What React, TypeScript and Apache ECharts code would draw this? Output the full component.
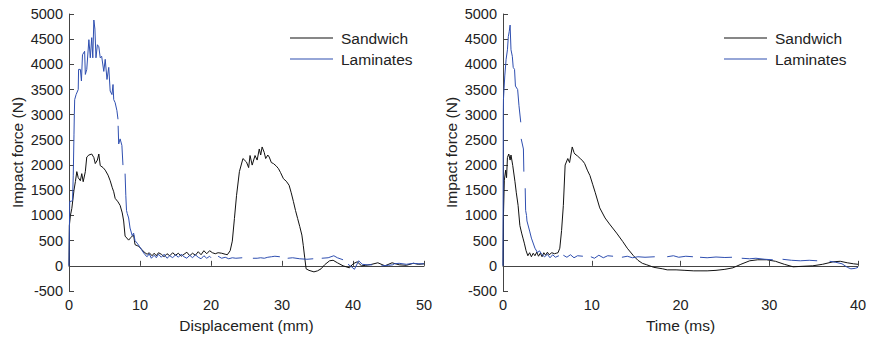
import React, { useEffect, useRef } from 'react';
import * as echarts from 'echarts';

// ---------- Left panel: force vs displacement ----------
const sandDispX = [0,0.05,0.2,0.4,0.7,0.9,1.1,1.3,1.6,1.8,2.0,2.3,2.5,2.8,3.2,3.5,3.7,4.0,4.2,4.4,4.8,5.1,5.5,5.8,6.1,6.3,6.5,6.9,7.2,7.5,7.7,7.9,8.4,8.7,8.9,9.1,9.3,9.6,9.8,10.2,10.7,11.0,11.3,11.7,12.0,12.3,12.6,13.0,13.4,13.8,14.2,14.6,15.0,15.4,15.8,16.2,16.6,17.0,17.4,17.8,18.2,18.6,19.0,19.4,19.8,20.2,20.6,21.0,21.5,22.0,22.3,22.7,23.0,23.3,23.6,24.0,24.5,25.0,25.3,25.5,25.8,26.2,26.5,26.8,27.0,27.2,27.5,27.7,28.0,28.2,28.5,28.8,29.2,29.5,29.8,30.2,30.6,31.0,31.3,31.6,31.9,32.2,32.5,32.8,33.0,33.2,33.4,33.8,34.5,35.0,35.5,36.0,36.7,37.2,37.8,38.6,39.5,40.0,40.6,41.2,41.8,42.5,43.5,44.5,45.5,46.5,47.5,48.5,49.2,50];
const sandDispF = [0,800,1000,1140,1500,1670,1870,1750,1690,1830,1670,1870,2160,2200,2220,2150,2030,2100,2220,1990,1950,1900,1800,1690,1550,1470,1340,1270,1200,1050,890,590,510,560,590,610,420,400,390,330,260,230,260,200,250,200,260,230,180,240,200,260,210,250,190,230,270,200,250,210,280,220,300,240,300,260,240,260,250,230,220,300,490,940,1400,1870,2130,2060,1950,2190,2000,2190,2100,2320,2200,2360,2250,2130,2200,2160,2050,2030,1980,1930,1850,1730,1680,1600,1450,1280,1100,940,780,610,400,160,-60,-90,-120,-100,-60,20,100,110,60,0,-40,40,80,0,10,25,60,0,60,20,10,50,30,40];

const lamDispX = [0,0.1,0.3,0.5,0.6,0.7,0.75,0.8,1.0,1.3,1.35,1.6,1.75,1.9,2.2,2.3,2.5,2.8,3.0,3.2,3.35,3.5,3.65,3.8,4.0,4.2,4.4,4.6,4.9,5.1,5.35,5.6,5.8,6.05,6.2,6.3,6.5,6.75,6.9,6.91,6.92,7.0,7.2,7.45,7.6,7.75,7.9,8.0,8.1,8.2,8.4,8.6,8.9,9.1,9.3,9.6,9.9,10.3,10.7,11.0,11.3,11.6,12.0,12.3,12.6,13.0,13.4,13.8,14.2,14.6,15.0,15.4,15.8,16.2,16.6,17.0,17.4,17.8,18.2,18.6,19.0,19.4,19.8,20.0,20.5,21.0,21.5,22.0,22.5,23.0,23.5,24.4,25.1,25.9,26.5,27.0,27.5,28.0,28.5,29.0,29.7,30.2,30.8,31.5,32.5,33.5,34.4,35.0,35.6,36.5,37.3,37.8,38.6,38.9,39.3,39.8,40.2,40.8,41.3,42.0,42.7,43.3,44.0,45.0,45.6,45.8,46.5,47.5,48.5,49.3,50];
const lamDispF = [0,1280,1280,1300,1800,2600,3000,3300,3400,3500,3900,3900,3670,4190,4260,3800,3900,4490,4130,4530,4130,4880,4700,4130,4390,4350,4130,4160,3860,4100,3700,3940,3470,3400,3600,3300,3240,3080,2910,null,2780,2420,2520,2390,2000,null,1830,1400,1100,1040,950,750,600,650,500,450,390,300,220,180,240,150,210,160,230,170,230,150,200,160,220,170,230,180,150,210,160,220,170,140,200,150,190,160,null,190,150,170,140,160,150,160,null,150,150,160,150,170,180,190,180,null,150,160,140,130,140,null,150,160,200,160,120,null,30,-20,-70,100,30,20,20,null,0,10,20,40,50,30,50,40,40];

// ---------- Right panel: force vs time ----------
const sandTimeX = [0,0.05,0.15,0.3,0.4,0.5,0.65,0.8,0.9,1.1,1.35,1.5,1.7,1.9,2.1,2.25,2.4,2.6,2.8,3.0,3.2,3.4,3.6,3.8,4.0,4.2,4.4,4.6,4.8,5.0,5.2,5.5,5.8,6.0,6.2,6.4,6.6,6.8,7.0,7.3,7.5,7.8,8.0,8.1,8.4,8.7,9.0,9.2,9.5,9.8,10.1,10.4,10.9,11.5,12.0,12.8,13.5,14.0,14.7,15.2,15.7,16.2,17.0,18.0,18.5,19.5,20.5,21.5,22.2,23.0,24.0,25.0,25.9,26.8,27.8,28.7,29.7,30.7,31.7,32.7,33.7,34.9,36.0,37.2,38.0,38.8,39.5,40];
const sandTimeF = [0,1000,1700,1900,1750,2150,2220,2100,2200,1990,1670,1450,1200,800,650,550,450,300,200,260,180,250,200,270,190,250,180,260,210,270,220,260,240,250,260,350,700,1200,2000,2130,2050,2360,2250,2220,2180,2130,2080,2030,1900,1790,1620,1450,1150,950,830,650,480,350,200,110,50,20,-30,-60,-80,-80,-90,-100,-100,-100,-90,-70,-40,30,100,120,120,90,30,-20,-10,0,30,80,90,60,40,30];

const lamTimeX = [0,0.03,0.05,0.2,0.35,0.5,0.6,0.7,0.8,0.9,1.05,1.15,1.3,1.4,1.65,1.8,2.0,2.02,2.05,2.3,2.35,2.4,2.5,2.55,2.65,2.7,3.0,3.2,3.6,3.9,4.1,4.4,4.7,5.0,5.3,5.6,5.9,6.3,6.5,6.8,7.2,7.6,8.0,8.4,9.0,9.5,9.9,10.3,10.8,11.3,11.8,12.4,12.9,13.4,14.0,14.6,15.2,16.0,17.1,17.8,18.5,19.2,19.8,20.6,21.4,21.8,22.2,23.0,24.0,25.0,25.8,26.3,26.9,27.8,28.5,29.5,30.4,31.0,31.5,32.5,33.5,34.5,35.4,36.1,36.8,37.5,38.2,38.8,39.2,39.7,40];
const lamTimeF = [0,3000,3300,3770,4100,4290,4550,4650,4780,4290,4160,3940,3900,3570,3500,3180,2850,null,2520,2320,1870,null,1540,1100,1000,890,690,550,350,260,300,220,180,230,160,220,170,200,null,210,170,220,160,200,190,null,180,150,210,160,200,190,null,170,190,160,180,170,180,null,180,200,170,190,180,null,170,160,175,165,170,null,150,140,150,130,120,null,130,110,100,110,100,null,90,70,40,-30,-60,-50,-30];

const yTicksMin = -500;
const yTicksMax = 5000;
const yTickStep = 500;
const seriesNames = ['Sandwich', 'Laminates'];

const FONT = '"Liberation Sans", Arial, Helvetica, sans-serif';
const BLACK = '#111111';
const BLUE = '#2f4fb0';
const AXIS = '#444444';
const TEXT = '#222222';

function toPairs(xs: number[], ys: (number | null)[]) {
  return xs.map((x, i) => [x, ys[i] === null ? '-' : ys[i]]);
}

function xAxisFor(gridIndex: number, max: number, name: string) {
  return {
    type: 'value',
    gridIndex,
    min: 0,
    max,
    interval: 10,
    name,
    nameLocation: 'middle',
    nameGap: 26,
    nameTextStyle: { fontFamily: FONT, fontSize: 15.5, color: TEXT },
    axisLine: { show: true, lineStyle: { color: AXIS, width: 1 } },
    axisTick: { show: true, inside: true, length: 5, lineStyle: { color: AXIS } },
    axisLabel: { fontFamily: FONT, fontSize: 14.5, color: TEXT, margin: 6, formatter: (v: number) => String(v) },
    splitLine: { show: false },
  };
}

function yAxisFor(gridIndex: number) {
  return {
    type: 'value',
    gridIndex,
    min: yTicksMin,
    max: yTicksMax,
    interval: yTickStep,
    name: 'Impact force (N)',
    nameLocation: 'middle',
    nameGap: 44,
    nameTextStyle: { fontFamily: FONT, fontSize: 15.5, color: TEXT },
    axisLine: { show: true, lineStyle: { color: AXIS, width: 1 } },
    axisTick: { show: true, inside: true, length: 5, lineStyle: { color: AXIS } },
    axisLabel: { fontFamily: FONT, fontSize: 14.5, color: TEXT, margin: 6, formatter: (v: number) => String(v) },
    splitLine: { show: false },
  };
}

function lineSeries(name: string, color: string, idx: number, data: any[]) {
  return {
    type: 'line',
    name,
    xAxisIndex: idx,
    yAxisIndex: idx,
    data,
    symbol: 'none',
    connectNulls: false,
    lineStyle: { color, width: 1 },
    itemStyle: { color },
  };
}

function legendAt(left: number) {
  return {
    data: seriesNames,
    orient: 'vertical',
    left,
    top: 30,
    padding: 0,
    icon: 'rect',
    itemWidth: 43,
    itemHeight: 1,
    itemGap: 5,
    selectedMode: false,
    textStyle: { fontFamily: FONT, fontSize: 15.5, color: TEXT, padding: [0, 0, 0, 3] },
  };
}

export default function App() {
  const ref = useRef<HTMLDivElement>(null);
  useEffect(() => {
    if (!ref.current) return;
    const chart = echarts.init(ref.current, undefined, { renderer: 'svg' });
    chart.setOption({
      animation: false,
      backgroundColor: '#ffffff',
      grid: [
        { left: 69, top: 14, width: 355, height: 279 },
        { left: 503, top: 14, width: 355, height: 279 },
      ],
      xAxis: [xAxisFor(0, 50, 'Displacement (mm)'), xAxisFor(1, 40, 'Time (ms)')],
      yAxis: [yAxisFor(0), yAxisFor(1)],
      legend: [legendAt(290), legendAt(724)],
      series: [
        lineSeries('Sandwich', BLACK, 0, toPairs(sandDispX, sandDispF)),
        lineSeries('Laminates', BLUE, 0, toPairs(lamDispX, lamDispF)),
        lineSeries('Sandwich', BLACK, 1, toPairs(sandTimeX, sandTimeF)),
        lineSeries('Laminates', BLUE, 1, toPairs(lamTimeX, lamTimeF)),
      ],
    });
    return () => chart.dispose();
  }, []);
  return (
    <div
      ref={ref}
      style={{ position: 'fixed', left: 0, top: 0, width: 872, height: 338, background: '#fff' }}
    />
  );
}
